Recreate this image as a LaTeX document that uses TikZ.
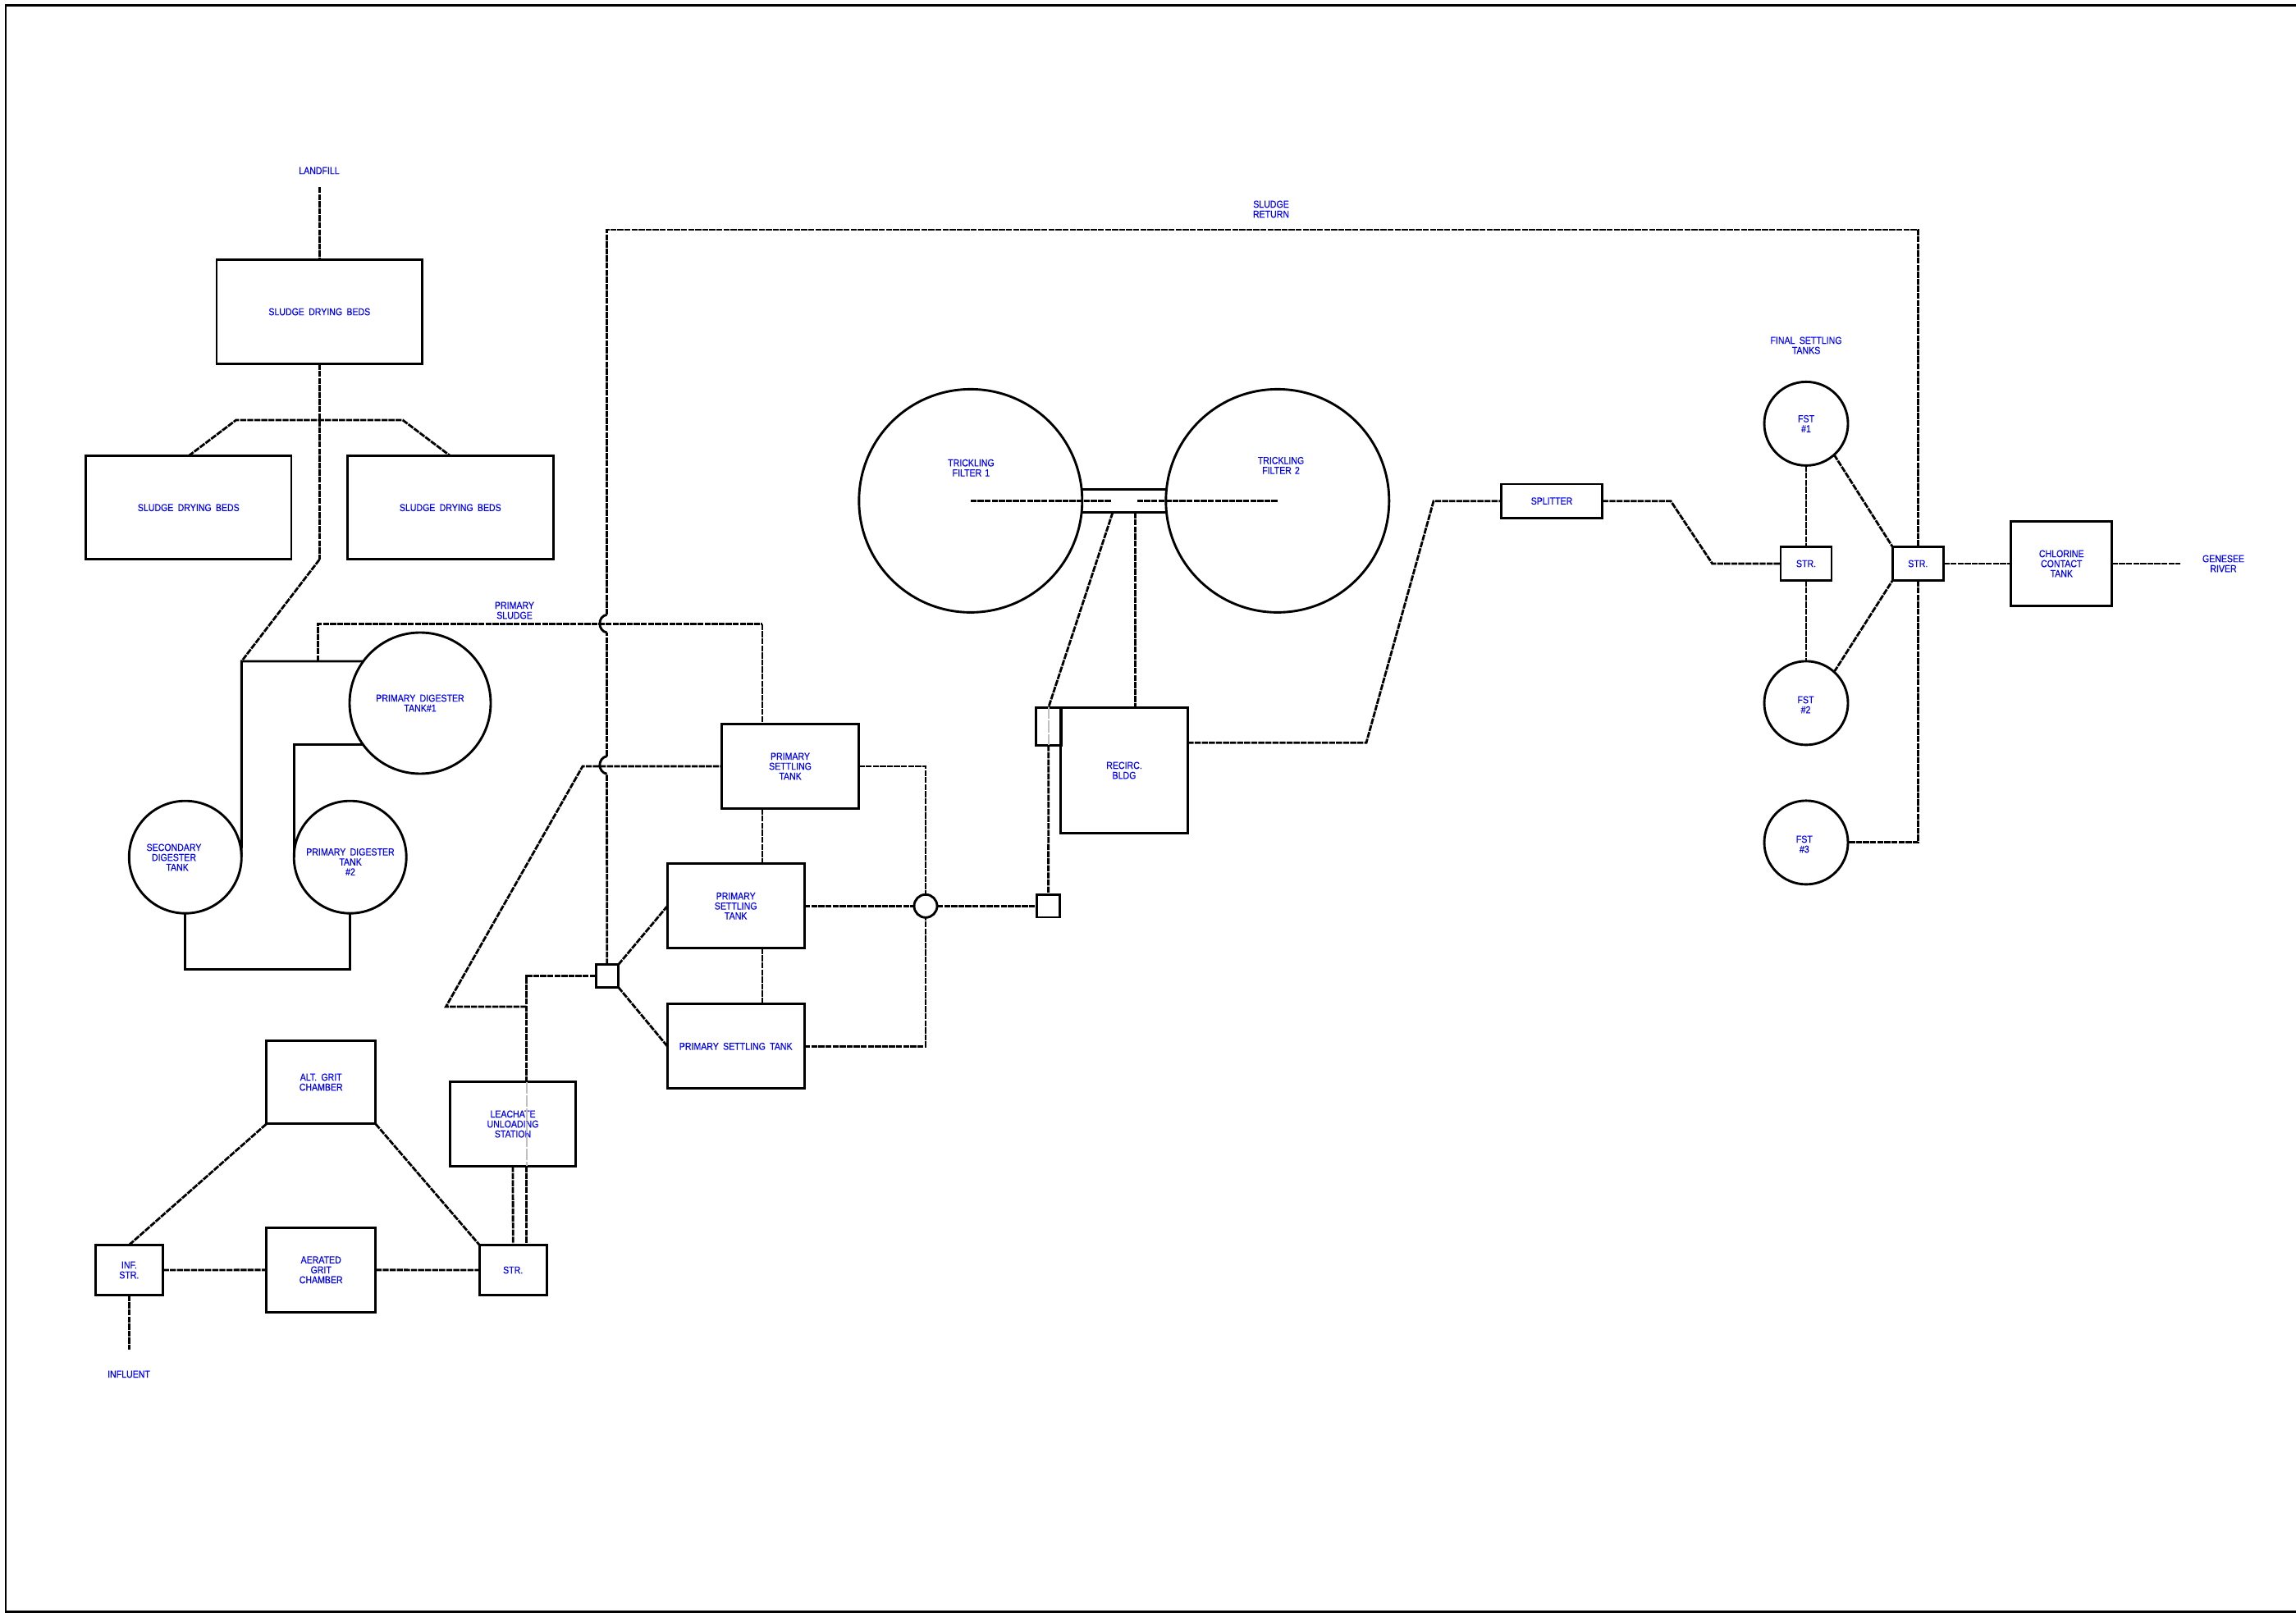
\documentclass[tikz,border=0pt]{standalone}
\usepackage{fontspec}
\setmainfont[FakeStretch=0.86,WordSpace=1.8,FakeBold=0.25]{Liberation Sans}
\usetikzlibrary{positioning,calc}
\definecolor{labelblue}{RGB}{0,0,255}

\begin{document}
\begin{tikzpicture}[
    box/.style={draw, line width=0.82pt, inner sep=0pt, outer sep=0pt, text=labelblue, align=center, font=\fontsize{3.5}{3.46}\selectfont},
    tank/.style={box, circle},
    lbl/.style={text=labelblue, align=center, inner sep=0pt, font=\fontsize{3.5}{3.46}\selectfont},
    pipe/.style={line width=0.82pt},
    flow/.style={line width=0.8pt, dash pattern=on 2.1pt off 0.35pt},
    ghost/.style={line width=0.6pt, black!25, dash pattern=on 4pt off 0.6pt},
]
\useasboundingbox (0,0) rectangle (27.98,19.65);
\coordinate (fa) at (27.98,19.58);
\coordinate (fb) at (0.07,19.58);
\coordinate (fc) at (0.07,0.01);
\coordinate (fd) at (27.98,0.01);
\draw[line width=0.85pt] (fa) -- (fb) -- (fc) -- (fd);

% sludge beds
\node[lbl] (landfill) at (3.89,17.57) {LANDFILL};
\node[box, minimum width=2.505cm, minimum height=1.266cm] (sdb1) at (3.893,15.85) {SLUDGE DRYING BEDS};
\node[box, minimum width=2.505cm, minimum height=1.26cm] (sdb2) at (2.298,13.463) {SLUDGE DRYING BEDS};
\node[box, minimum width=2.505cm, minimum height=1.26cm, right=0.685cm of sdb2] (sdb3) {SLUDGE DRYING BEDS};
\coordinate (lf) at (3.893,17.37);
\coordinate (teel) at (2.877,14.53);
\coordinate (teer) at (4.908,14.53);
\coordinate (sbend) at (3.893,12.83);
\draw[flow] (lf) -- (sdb1.north);
\draw[flow] (sdb2.north) -- (teel) -- (teer) -- (sdb3.north);
\draw[flow] (sdb1.south) -- (sbend);

% digesters
\node[tank, minimum size=1.72cm] (pd1) at (5.12,11.08) {PRIMARY DIGESTER\\TANK\#1};
\node[tank, minimum size=1.37cm] (pd2) at (4.267,9.203) {};
\node[tank, minimum size=1.37cm] (sd) at (2.258,9.203) {};
\node[lbl] (pd2txt) at (4.27,9.145) {PRIMARY DIGESTER\\TANK\\\#2};
\node[lbl] (sdtxt) at (2.12,9.2) {SECONDARY\\DIGESTER\\\hspace*{2.3pt}TANK};
\coordinate (dj) at (2.944,11.59);
\coordinate (ps0) at (3.872,11.59);
\coordinate (psr) at (9.29,12.043);
\draw[flow] (sbend) -- (dj);
\draw[pipe] (sd.east) -- (dj) -- (dj -| pd1.143.6);
\draw[pipe] (pd1.216.4) -| (pd2.west);
\draw[pipe] (sd.south) -- ++(0,-0.68) -| (pd2.south);
\draw[flow] (ps0) |- (psr);
\node[lbl] (pslbl) at (6.27,12.21) {PRIMARY\\SLUDGE};

% primary settling
\node[box, minimum width=1.668cm, minimum height=1.03cm] (pst1) at (9.63,10.31) {PRIMARY\\SETTLING\\TANK};
\node[box, minimum width=1.668cm, minimum height=1.03cm] (pst2) at (8.967,8.607) {PRIMARY\\SETTLING\\TANK};
\node[box, minimum width=1.668cm, minimum height=1.03cm, below=0.68cm of pst2] (pst3) {PRIMARY SETTLING TANK};
\node[box, circle, minimum size=0.28cm] (jn) at (11.28,8.607) {};
\node[box, minimum size=0.275cm] (sq) at (12.776,8.607) {};
\node[box, minimum size=0.275cm] (jct) at (7.398,7.755) {};
\coordinate (col) at (11.28,10.31);
\draw[flow] (psr) -- (psr |- pst1.north);
\draw[flow] (psr |- pst1.south) -- (psr |- pst2.north);
\draw[flow] (psr |- pst2.south) -- (psr |- pst3.north);
\draw[flow] (pst1.east) -- (col) -- (jn.north);
\draw[flow] (pst2.east) -- (jn.west);
\draw[flow] (jn.east) -- (sq.west);
\draw[flow] (pst3.east) -| (jn.south);
\draw[flow] (jct.north east) -- (pst2.west);
\draw[flow] (jct.south east) -- (pst3.west);

% return line with its two hops
\coordinate (hopa) at (7.395,12.157);
\coordinate (hopb) at (7.395,11.94);
\coordinate (hopc) at (7.395,10.433);
\coordinate (hopd) at (7.395,10.217);
\coordinate (rtl) at (7.395,16.85);
\node[lbl] (srlbl) at (15.49,17.1) {SLUDGE\\RETURN};
\draw[flow] (jct.north) -- (hopd);
\draw[pipe] (hopd) .. controls (7.28,10.24) and (7.28,10.41) .. (hopc);
\draw[flow] (hopc) -- (hopb);
\draw[pipe] (hopb) .. controls (7.28,11.96) and (7.28,12.14) .. (hopa);

% grit and headworks
\node[box, minimum width=1.33cm, minimum height=1.017cm] (alt) at (3.912,6.46) {ALT. GRIT\\CHAMBER};
\node[box, minimum width=1.33cm, minimum height=1.026cm, below=1.267cm of alt] (aer) {AERATED\\GRIT\\CHAMBER};
\node[box, minimum width=0.82cm, minimum height=0.614cm] (inf) at (1.574,4.17) {INF.\\STR.};
\node[box, minimum width=0.82cm, minimum height=0.614cm] (str) at (6.252,4.17) {STR.};
\node[box, minimum width=1.53cm, minimum height=1.023cm] (lea) at (6.25,5.95) {LEACHATE\\UNLOADING\\STATION};
\node[lbl] (influent) at (1.57,2.9) {INFLUENT};
\coordinate (infend) at (1.574,3.2);
\coordinate (lc) at (6.417,7.755);
\coordinate (lk) at (6.417,7.38);
\coordinate (lk0) at (5.434,7.38);
\coordinate (dtop) at (7.1,10.31);
\draw[flow] (inf.north) -- (alt.south west);
\draw[flow] (alt.south east) -- (str.north west);
\draw[flow] (inf.east) -- (aer.west);
\draw[flow] (aer.east) -- (str.west);
\draw[flow] (inf.south) -- (infend);
\draw[flow] (lea.south) -- (str.north);
\draw[flow] (jct.west) -- (lc) -- (lc |- lea.north);
\draw[ghost] (lc |- lea.north) -- (lc |- lea.south);
\draw[flow] (lc |- lea.south) -- (lc |- str.north);
\draw[flow] (lk) -- (lk0) -- (dtop) -- (pst1.west);

% filters and recirculation
\node[tank, minimum size=2.72cm] (tf1) at (11.828,13.546) {};
\node[tank, minimum size=2.72cm, right=1.02cm of tf1] (tf2) {};
\node[lbl] (tf1txt) at (11.834,13.948) {TRICKLING\\FILTER\,\,1};
\node[lbl] (tf2txt) at (15.61,13.977) {TRICKLING\\FILTER\,\,2};
\node[box, minimum width=1.543cm, minimum height=1.537cm] (rec) at (13.70,10.26) {RECIRC.\\BLDG};
\node[box, minimum width=0.307cm, minimum height=0.46cm] (pit) at (12.777,10.797) {};
\coordinate (ca) at (13.537,13.546);
\coordinate (cb) at (13.858,13.546);
\coordinate (dl) at (13.56,13.405);
\coordinate (dv) at (13.835,13.405);
\draw[pipe] (tf1.6) -- (tf2.174);
\draw[pipe] (tf1.-6) -- (tf2.-174);
\draw[flow] (tf1.center) -- (ca);
\draw[flow] (cb) -- (tf2.center);
\draw[flow] (dl) -- (pit.north);
\draw[ghost] (pit.north) -- (pit.south);
\draw[flow] (pit.south) -- (sq.north);
\draw[flow] (dv) -- (dv |- rec.north);

% splitter and final settling
\node[box, minimum width=1.233cm, minimum height=0.413cm] (spl) at (18.91,13.543) {SPLITTER};
\node[lbl] (fstlbl) at (22.01,15.44) {FINAL SETTLING\\TANKS};
\node[tank, minimum size=1.02cm] (fst1) at (22.01,14.486) {FST\\\#1};
\node[tank, minimum size=1.02cm, below=2.385cm of fst1] (fst2) {};
\node[tank, minimum size=1.02cm, below=0.68cm of fst2] (fst3) {};
\node[lbl] (fst2txt) at (22.005,11.06) {FST\\\#2};
\node[lbl] (fst3txt) at (21.988,9.36) {FST\\\#3};
\node[box, minimum width=0.62cm, minimum height=0.41cm] (stra) at (22.01,12.78) {STR.};
\node[box, minimum width=0.62cm, minimum height=0.41cm] (strb) at (23.373,12.78) {STR.};
\node[box, minimum width=1.23cm, minimum height=1.024cm] (cct) at (25.122,12.78) {CHLORINE\\CONTACT\\TANK};
\node[lbl] (river) at (27.095,12.78) {GENESEE\\RIVER};
\coordinate (rivend) at (26.574,12.78);
\coordinate (ro) at (14.473,10.597);
\coordinate (knee) at (16.65,10.597);
\coordinate (kneeb) at (17.47,13.543);
\coordinate (spa) at (20.36,13.543);
\coordinate (spb) at (20.867,12.78);
\draw[flow] (ro) -- (knee) -- (kneeb) -- (spl.west);
\draw[flow] (spl.east) -- (spa) -- (spb) -- (stra.west);
\draw[flow] (fst1.south) -- (stra.north);
\draw[flow] (stra.south) -- (fst2.north);
\draw[flow] (fst1.-48) -- (strb.north west);
\draw[flow] (fst2.48) -- (strb.south west);
\draw[flow] (hopa) -- (rtl) -- (rtl -| strb.north) -- (strb.north);
\draw[flow] (strb.south) |- (fst3.east);
\draw[flow] (strb.east) -- (cct.west);
\draw[flow] (cct.east) -- (rivend);
\end{tikzpicture}
\end{document}
